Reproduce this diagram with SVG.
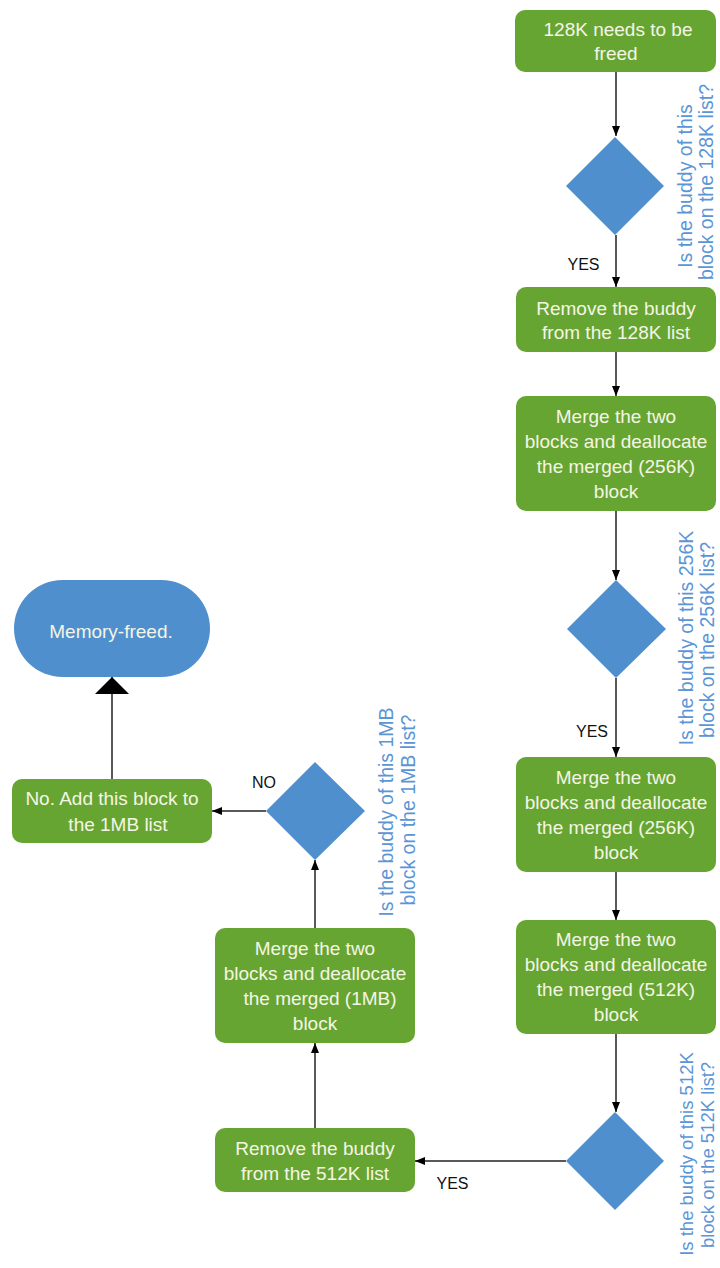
<svg xmlns="http://www.w3.org/2000/svg" width="720" height="1268" viewBox="0 0 720 1268">
<style>
.box{fill:#67a533;}
.dia{fill:#4f8fce;}
.bt{font-family:"Liberation Sans",Arial,sans-serif;font-size:19px;fill:#f5f5e4;text-anchor:middle;}
.qt{font-family:"Liberation Sans",Arial,sans-serif;font-size:19.5px;fill:#5b95d6;text-anchor:middle;}
.qs{font-size:18.5px;}
.lbl{font-family:"Liberation Sans",Arial,sans-serif;font-size:16px;fill:#111;text-anchor:middle;}
.con{stroke:#222;stroke-width:1.5;fill:none;}
</style>
<defs>
<marker id="ah" markerWidth="10" markerHeight="8" refX="10" refY="4" orient="auto" markerUnits="userSpaceOnUse">
<path d="M0,0 L10,4 L0,8 Z" fill="#000"/>
</marker>
<marker id="big" markerWidth="17" markerHeight="34" refX="17" refY="17" orient="auto" markerUnits="userSpaceOnUse">
<path d="M0,0 L17,17 L0,34 Z" fill="#000"/>
</marker>
</defs>

<g id="connectors">
<line class="con" x1="616" y1="72" x2="616" y2="136" marker-end="url(#ah)"/>
<line class="con" x1="616" y1="235" x2="616" y2="287" marker-end="url(#ah)"/>
<line class="con" x1="616" y1="352" x2="616" y2="396" marker-end="url(#ah)"/>
<line class="con" x1="616" y1="511" x2="616" y2="580" marker-end="url(#ah)"/>
<line class="con" x1="616" y1="678" x2="616" y2="757" marker-end="url(#ah)"/>
<line class="con" x1="616" y1="872" x2="616" y2="920" marker-end="url(#ah)"/>
<line class="con" x1="616" y1="1034" x2="616" y2="1112" marker-end="url(#ah)"/>
<line class="con" x1="566" y1="1161" x2="415" y2="1161" marker-end="url(#ah)"/>
<line class="con" x1="315" y1="1128" x2="315" y2="1043" marker-end="url(#ah)"/>
<line class="con" x1="315" y1="928" x2="315" y2="860" marker-end="url(#ah)"/>
<line class="con" x1="266" y1="811" x2="212" y2="811" marker-end="url(#ah)"/>
<line class="con" x1="112" y1="779" x2="112" y2="677" marker-end="url(#big)"/>
<text class="lbl" x="583.5" y="270">YES</text>
<text class="lbl" x="592" y="737">YES</text>
<text class="lbl" x="452.5" y="1189">YES</text>
<text class="lbl" x="264" y="788">NO</text>
</g>

<g id="n1">
<rect class="box" x="515" y="10" width="201" height="62" rx="10"/>
<text class="bt" x="618" y="35.5">128K needs to be</text>
<text class="bt" x="616" y="60">freed</text>
</g>

<g id="d1">
<polygon class="dia" points="615,137 664,186 615,235 566,186"/>
<text class="qt" transform="translate(692,186) rotate(-90)">Is the buddy of this</text>
<text class="qt" transform="translate(713,182) rotate(-90)">block on the 128K list?</text>
</g>

<g id="n2">
<rect class="box" x="516" y="287" width="200" height="65" rx="10"/>
<text class="bt" x="616" y="315">Remove the buddy</text>
<text class="bt" x="616" y="339">from the 128K list</text>
</g>

<g id="n3">
<rect class="box" x="516" y="396" width="200" height="115" rx="10"/>
<text class="bt" x="616" y="422.5">Merge the two</text>
<text class="bt" x="616" y="447.5">blocks and deallocate</text>
<text class="bt" x="616" y="472.5">the merged (256K)</text>
<text class="bt" x="616" y="497.5">block</text>
</g>

<g id="d2">
<polygon class="dia" points="616,580 666,629 616,678 567,629"/>
<text class="qt" transform="translate(693,638) rotate(-90)">Is the buddy of this 256K</text>
<text class="qt" transform="translate(714,640) rotate(-90)">block on the 256K list?</text>
</g>

<g id="n4">
<rect class="box" x="516" y="757" width="200" height="115" rx="10"/>
<text class="bt" x="616" y="783.5">Merge the two</text>
<text class="bt" x="616" y="808.5">blocks and deallocate</text>
<text class="bt" x="616" y="833.5">the merged (256K)</text>
<text class="bt" x="616" y="858.5">block</text>
</g>

<g id="n5">
<rect class="box" x="516" y="920" width="200" height="114" rx="10"/>
<text class="bt" x="616" y="946">Merge the two</text>
<text class="bt" x="616" y="971">blocks and deallocate</text>
<text class="bt" x="616" y="996">the merged (512K)</text>
<text class="bt" x="616" y="1021">block</text>
</g>

<g id="d3">
<polygon class="dia" points="615,1112 664,1161 615,1210 566,1161"/>
<text class="qt qs" transform="translate(693,1154) rotate(-90)">Is the buddy of this 512K</text>
<text class="qt qs" transform="translate(714,1155) rotate(-90)">block on the 512K list?</text>
</g>

<g id="n6">
<rect class="box" x="215" y="1128" width="200" height="64" rx="10"/>
<text class="bt" x="315" y="1154.5">Remove the buddy</text>
<text class="bt" x="315" y="1179.5">from the 512K list</text>
</g>

<g id="n7">
<rect class="box" x="215" y="928" width="200" height="115" rx="10"/>
<text class="bt" x="315" y="954.5">Merge the two</text>
<text class="bt" x="315" y="979.5">blocks and deallocate</text>
<text class="bt" x="320" y="1004.5">the merged (1MB)</text>
<text class="bt" x="315" y="1029.5">block</text>
</g>

<g id="d4">
<polygon class="dia" points="315,762 365,811 315,860 266,811"/>
<text class="qt" transform="translate(393,812) rotate(-90)">Is the buddy of this 1MB</text>
<text class="qt" transform="translate(415,810) rotate(-90)">block on the 1MB list?</text>
</g>

<g id="n8">
<rect class="box" x="12" y="779" width="200" height="64" rx="10"/>
<text class="bt" x="112" y="804.5">No. Add this block to</text>
<text class="bt" x="118" y="830.5">the 1MB list</text>
</g>

<g id="n9">
<rect class="dia" x="14" y="580" width="196" height="97" rx="48.5"/>
<text class="bt" x="111" y="637.5">Memory-freed.</text>
</g>
</svg>
